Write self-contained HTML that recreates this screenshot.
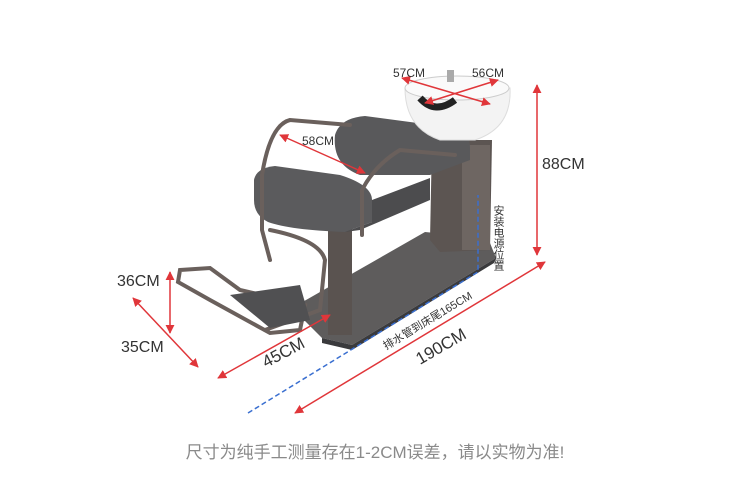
<!DOCTYPE html>
<html><head><meta charset="utf-8"><style>
html,body{margin:0;padding:0;background:#fff;width:750px;height:487px;overflow:hidden}
svg{display:block}
text{font-family:"Liberation Sans","Noto Sans CJK SC",sans-serif}
</style></head><body>
<svg width="750" height="487" viewBox="0 0 750 487" xmlns="http://www.w3.org/2000/svg">
<defs>
<marker id="a" viewBox="0 0 10 10" refX="9" refY="5" markerWidth="6" markerHeight="6" orient="auto-start-reverse"><path d="M0,0L10,5L0,10z" fill="#e0363a"/></marker>
</defs>
<!-- base plate -->
<polygon points="292,308 425,232 488,238 496,258 352,345 322,338" fill="#5e5c5c"/>
<polygon points="322,338 352,345 496,258 494,263 352,350 322,343" fill="#3a3a3c"/>
<!-- column under sink -->
<polygon points="432,140 492,140 490,250 440,252 430,240" fill="#5c5552"/>
<rect x="462" y="145" width="28" height="105" fill="#6e6662"/>
<!-- seat leg -->
<rect x="328" y="225" width="24" height="110" fill="#5a5350"/>
<!-- back cushion (bed) -->
<path d="M335,135 Q340,118 365,116 L455,128 Q470,132 470,148 L470,160 L430,175 L360,175 Q332,165 335,135 Z" fill="#59595b"/>
<!-- front seat -->
<path d="M254,180 Q256,168 275,166 L340,175 Q372,185 372,200 L372,222 L345,232 Q290,230 268,222 Q254,215 254,200 Z" fill="#5b5b5d"/>
<polygon points="345,232 372,222 372,200 430,178 430,200 360,230" fill="#4c4c4e"/>
<!-- bowl -->
<path d="M405,88 Q405,128 440,140 L475,140 Q512,128 510,88 Z" fill="#f3f3f3" stroke="#ddd"/>
<ellipse cx="457" cy="88" rx="52" ry="12" fill="#fafafa" stroke="#ccc"/>
<path d="M420,98 Q435,115 455,100" stroke="#222" stroke-width="7" fill="none"/>
<rect x="447" y="70" width="7" height="12" fill="#aaa"/>
<!-- frame tubes -->
<g stroke="#6a605c" stroke-width="4" fill="none" stroke-linecap="round">
<path d="M350,125 L290,120 Q270,125 262,175 L262,230 L270,260"/>
<path d="M455,155 L400,150 Q375,165 362,190 L362,235"/>
<path d="M270,230 Q320,240 325,260 L320,310 L265,330"/>
<path d="M180,270 L210,268 L240,290 L305,305 L300,330 L270,333 L210,300 L178,282 Z"/>
</g>
<polygon points="230,295 300,285 310,320 270,328" fill="#505052"/>
<!-- red dimension lines -->
<g stroke="#e0363a" stroke-width="1.5" fill="none" marker-start="url(#a)" marker-end="url(#a)">
<line x1="537" y1="85" x2="537" y2="255"/>
<line x1="295" y1="413" x2="545" y2="262"/>
<line x1="218" y1="378" x2="330" y2="315"/>
<line x1="170" y1="272" x2="170" y2="333"/>
<line x1="133" y1="298" x2="198" y2="367"/>
<line x1="280" y1="135" x2="365" y2="173"/>
<line x1="402" y1="78" x2="490" y2="104"/>
<line x1="425" y1="103" x2="498" y2="80"/>
</g>
<!-- blue dashed -->
<path d="M248,413 L478,272 L478,195" stroke="#3a6fd0" stroke-width="1.5" stroke-dasharray="5,3" fill="none"/>
<!-- labels -->
<g fill="#333" font-size="15">
<text x="393" y="77" font-size="12">57CM</text>
<text x="472" y="77" font-size="12">56CM</text>
<text x="302" y="145" font-size="12">58CM</text>
<text x="542" y="169" font-size="16">88CM</text>
<text x="117" y="286" font-size="16">36CM</text>
<text x="121" y="352" font-size="16">35CM</text>
<text x="266" y="368" font-size="17" transform="rotate(-28 266 368)">45CM</text>
<text x="420" y="365" font-size="17" transform="rotate(-30 420 365)">190CM</text>
<text x="386" y="350" font-size="11" transform="rotate(-31 386 350)">排水管到床尾165CM</text>
<text x="498" y="205" font-size="11" style="writing-mode:vertical-rl">安装电源位置</text>
</g>
<text x="375" y="458" font-size="17" fill="#8a8a8a" text-anchor="middle">尺寸为纯手工测量存在1-2CM误差，请以实物为准!</text>
</svg>
</body></html>
